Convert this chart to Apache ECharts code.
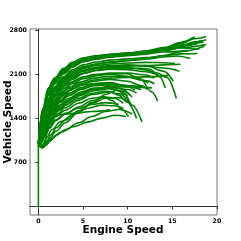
<!DOCTYPE html>
<html>
<head>
<meta charset="utf-8">
<script src="https://cdn.jsdelivr.net/npm/echarts@6/dist/echarts.min.js"></script>
<style>html,body{margin:0;padding:0;background:#fff}#c{width:241px;height:241px}</style>
</head>
<body>
<div id="c"></div>
<script>
const xTicks = [0, 5, 10, 15, 20];
const yTicks = [700, 1400, 2100, 2800];
const startLine = [[0, 0], [0, 1000]];

const topRuns = [
  [[0,1000],[0.5,1550],[1.1,1870],[1.8,2030],[2.8,2180],[3.8,2280],[5,2350],[6.5,2390],[8,2415],[10,2435],[12,2465],[14,2515],[16,2590],[17.5,2665],[18.8,2700]],
  [[0,1000],[0.5,1500],[1.1,1830],[1.8,2000],[2.8,2155],[3.8,2255],[5,2335],[6.5,2375],[8,2400],[10,2420],[12,2450],[14,2500],[16,2560],[17.5,2615],[18.8,2650]],
  [[0,1000],[0.5,1450],[1.1,1790],[1.8,1970],[2.8,2125],[3.8,2230],[5,2310],[6.5,2355],[8,2385],[10,2405],[12,2435],[14,2475],[16,2525],[18.8,2575]],
  [[0,990],[0.5,1420],[1.1,1760],[1.8,1945],[2.8,2105],[3.8,2215],[5,2300],[6.5,2345],[8,2380],[10,2410],[12,2445],[14,2490],[16,2555],[18.3,2640]],
  [[0,1000],[0.5,1530],[1.1,1850],[1.8,2015],[2.8,2165],[3.8,2265],[5,2340],[6.5,2380],[8,2400],[10,2415],[12,2445],[14,2505],[16,2595],[17.5,2700]],
  [[0,1000],[0.5,1400],[1.1,1720],[1.8,1900],[2.8,2060],[3.8,2170],[5,2250],[6.5,2295],[8,2325],[10,2345],[12,2365],[14,2395],[16,2425],[17.8,2430]],
  [[0,990],[0.5,1380],[1.1,1700],[1.8,1880],[2.8,2040],[3.8,2145],[5,2225],[6.5,2265],[8,2295],[10,2315],[12,2340],[14,2375],[15.5,2390],[17,2350]],
  [[0,1000],[0.5,1470],[1.1,1800],[1.8,1985],[2.8,2140],[3.8,2245],[5,2325],[6.5,2365],[8,2390],[10,2410],[12,2440],[14,2480],[16,2520],[18,2500]],
  [[0,1000],[0.5,1430],[1.1,1770],[1.8,1955],[2.8,2110],[3.8,2220],[5,2300],[6.5,2340],[8,2370],[10,2395],[12,2420],[14,2455],[16.8,2480]],
  [[0,1000],[0.5,1490],[1.1,1820],[1.8,1990],[2.8,2145],[3.8,2250],[5,2330],[6.5,2370],[8,2395],[10,2415],[12,2450],[14,2505],[16,2560],[17.2,2570]],
  [[0,1000],[0.5,1510],[1.1,1835],[1.8,2005],[2.8,2160],[3.8,2260],[5,2335],[6.5,2375],[8,2405],[10,2425],[12,2455],[14,2510],[16,2570],[18.5,2615]],
  [[0,995],[0.5,1460],[1.1,1790],[1.8,1975],[2.8,2130],[3.8,2235],[5,2315],[6.5,2360],[8,2390],[10,2410],[12,2445],[14,2495],[16,2545],[17.8,2585]],
  [[0,1000],[0.5,1360],[1.1,1680],[1.8,1860],[2.8,2020],[3.8,2125],[5,2210],[6.5,2260],[8,2290],[10,2320],[12,2350],[14,2400],[16,2460],[18.6,2545]],
  [[0,1000],[0.5,1560],[1.1,1880],[1.8,2040],[2.8,2190],[3.8,2290],[5,2360],[6.5,2395],[8,2420],[10,2440],[12,2470],[14,2525],[16,2610],[17.3,2680]]
];

const upperRuns = [
  [[0,1000],[0.5,1350],[1.1,1650],[1.8,1830],[2.8,1990],[3.8,2090],[5,2165],[6.5,2200],[8,2220],[10,2230],[12,2240],[14,2250],[15.9,2260]],
  [[0,990],[0.5,1300],[1.1,1600],[1.8,1780],[2.8,1950],[3.8,2060],[5,2150],[6.5,2200],[8,2230],[10,2240],[12,2230],[14,2200],[15.8,2150]],
  [[0,1000],[0.5,1320],[1.1,1610],[1.8,1790],[2.8,1960],[3.8,2070],[5,2150],[6.5,2190],[8,2210],[10,2205],[12,2170],[13.3,2120],[14.4,2050],[15.45,1716]],
  [[0,1000],[0.5,1280],[1.1,1560],[1.8,1740],[2.8,1910],[3.8,2020],[5,2110],[6.5,2160],[8,2190],[10,2200],[11.5,2195],[12.5,2180],[13.6,2060],[14.2,1884]],
  [[0,1000],[0.5,1250],[1.1,1520],[1.8,1700],[2.8,1870],[3.8,1980],[5,2060],[6.5,2100],[8,2120],[9.9,2110],[11.4,2030],[12.7,1820],[13.35,1673]],
  [[0,1000],[0.5,1200],[1.1,1440],[1.8,1610],[2.8,1770],[3.8,1870],[5,1930],[6.3,1955],[7.3,1955],[9,1920],[10.5,1895],[12.7,1885]],
  [[0,1000],[0.5,1340],[1.1,1640],[1.8,1820],[2.8,1980],[3.8,2085],[5,2160],[6.5,2210],[8,2240],[10,2250],[12,2240],[14,2150],[15.1,1990]],
  [[0,1000],[0.5,1290],[1.1,1580],[1.8,1760],[2.8,1930],[3.8,2040],[5,2120],[6.5,2165],[8,2180],[10,2175],[12,2140],[13.5,2080]],
  [[0,1000],[0.5,1370],[1.1,1670],[1.8,1850],[2.8,2005],[3.8,2110],[5,2190],[6.5,2235],[8,2265],[10,2280],[12,2290],[14,2285],[15.3,2270]],
  [[0,1000],[0.5,1230],[1.1,1490],[1.8,1670],[2.8,1840],[3.8,1950],[5,2030],[6.5,2080],[8,2110],[10,2120],[12,2090],[13,2040]]
];

const middleRuns = [
  [[0,1000],[0.4,1180],[0.9,1400],[1.5,1570],[2.4,1730],[3.4,1840],[4.8,1930],[6.2,1990],[8,2020],[10,1990],[11.5,1920],[12.2,1860]],
  [[0,1000],[0.4,1150],[0.9,1360],[1.5,1530],[2.4,1690],[3.4,1800],[4.8,1890],[6.2,1950],[8,1970],[9.5,1930],[10.8,1850]],
  [[0,1000],[0.4,1210],[0.9,1450],[1.5,1620],[2.4,1780],[3.4,1890],[4.8,1980],[6.2,2040],[8,2070],[10,2060],[11.5,2010],[12.3,1960]],
  [[0,1000],[0.4,1120],[0.9,1320],[1.5,1490],[2.4,1650],[3.4,1760],[4.8,1860],[6.2,1920],[7.5,1930],[9,1880],[10.3,1770]],
  [[0,1000],[0.4,1100],[0.9,1290],[1.5,1450],[2.4,1610],[3.4,1720],[4.8,1820],[6.2,1880],[7.5,1890],[9,1840],[10,1760]],
  [[0,1000],[0.4,1260],[0.9,1510],[1.5,1690],[2.4,1850],[3.4,1960],[4.8,2040],[6.2,2090],[8,2100],[10,2070],[12,2000],[13,1950]],
  [[0,1000],[0.4,1080],[0.9,1250],[1.5,1410],[2.4,1570],[3.4,1690],[4.8,1800],[6.2,1870],[8,1910],[10,1900],[11.5,1860]],
  [[0,1000],[0.4,1140],[0.9,1340],[1.5,1510],[2.4,1670],[3.4,1780],[4.8,1870],[6.2,1930],[8,1950],[10,1920],[12,1890]],
  [[0,1000],[0.4,1200],[0.9,1430],[1.5,1600],[2.4,1760],[3.4,1870],[4.8,1955],[6.2,2010],[8,2040],[10,2050],[12,2060],[14.5,2080]],
  [[0,1000],[0.4,1060],[0.9,1220],[1.5,1380],[2.4,1540],[3.4,1660],[4.8,1770],[6.2,1840],[8,1870],[9.5,1830],[10.5,1740]]
];

const lowerRuns = [
  [[0,1000],[0.3,1020],[0.7,1150],[1.2,1290],[2,1430],[3,1530],[4.5,1640],[6,1720],[7.3,1741],[8.3,1680],[9.2,1557],[10.1,1424]],
  [[0,1000],[0.3,1040],[0.7,1180],[1.2,1320],[2,1460],[3,1570],[4.5,1690],[6,1780],[8,1820],[9,1770],[9.9,1662],[11,1398]],
  [[0,1000],[0.2,960],[0.45,940],[0.8,990],[1.2,1070],[2,1200],[3,1330],[4.5,1500],[6,1650],[7.5,1780],[8.8,1847],[9.7,1780],[10.5,1609],[11.6,1345]],
  [[0,1000],[0.2,955],[0.4,940],[0.7,1000],[1,1180],[1.4,1380],[2,1450],[4,1480],[6,1510],[8.04,1535]],
  [[0,1000],[0.2,955],[0.4,935],[0.8,970],[1.2,1030],[2,1130],[3,1220],[4.5,1330],[6,1430],[7.5,1510],[9,1540],[10.5,1470]],
  [[0,1000],[0.3,1070],[0.7,1220],[1.2,1370],[2,1510],[3,1610],[4.5,1720],[6,1800],[7.5,1830],[9,1790],[10,1700]],
  [[0,1000],[0.3,1000],[0.7,1100],[1.2,1240],[2,1370],[3,1470],[4.5,1580],[6,1680],[7.5,1740],[8.5,1720],[9.5,1640]],
  [[0,1000],[0.2,970],[0.5,960],[0.9,1030],[1.4,1140],[2,1250],[3,1370],[4.5,1520],[6,1640],[7.5,1720],[9,1730],[10.3,1650]],
  [[0,1000],[0.3,1090],[0.7,1260],[1.2,1420],[2,1560],[3,1660],[4.5,1770],[6,1850],[8,1890],[10,1860],[11,1800]],
  [[0,1000],[0.2,950],[0.45,930],[0.9,980],[1.5,1080],[2.5,1180],[4,1270],[5.5,1340],[7,1400],[8.5,1450],[9.8,1430]],
  [[0,1000],[0.3,1030],[0.7,1130],[1.2,1250],[2,1380],[3,1480],[4.5,1560],[6,1620],[7.5,1650],[9,1620]],
  [[0,1000],[0.2,975],[0.5,990],[0.9,1090],[1.5,1220],[2.5,1350],[4,1470],[5.5,1560],[7,1610],[8.5,1600],[9.5,1560]]
];

const green = '#008000';
const allRuns = [startLine].concat(lowerRuns, middleRuns, upperRuns, topRuns);
const series = allRuns.map(function (run) {
  return {
    type: 'line',
    data: run,
    showSymbol: false,
    symbol: 'none',
    smooth: 0.35,
    smoothMonotone: 'x',
    lineStyle: { color: green, width: 1.6 },
    silent: true,
    animation: false
  };
});

const tickFont = { fontFamily: 'DejaVu Sans', fontWeight: 'bold', fontSize: 6.3, color: '#000' };
const titleFont = 'bold 10.5px "DejaVu Sans"';
const plain = function (v) { return String(v); };
const chart = echarts.init(document.getElementById('c'), null, { renderer: 'canvas' });
chart.setOption({
  animation: false,
  grid: { left: 30, right: 24, top: 29, bottom: 26, show: true, borderColor: '#777', borderWidth: 1, containLabel: false, outerBoundsMode: 'none' },
  graphic: [
    { type: 'text', x: 8, y: 122, rotation: Math.PI / 2, silent: true,
      style: { text: 'Vehicle Speed', font: titleFont, fill: '#000', align: 'center', verticalAlign: 'middle' } },
    { type: 'text', x: 123, y: 230, silent: true,
      style: { text: 'Engine Speed', font: titleFont, fill: '#000', align: 'center', verticalAlign: 'middle' } }
  ],
  xAxis: {
    type: 'value', min: -0.94, max: 20,
    axisLine: { show: true, lineStyle: { color: '#333', width: 1 } },
    axisTick: { show: true, length: 3, customValues: xTicks, lineStyle: { color: '#333' } },
    axisLabel: Object.assign({ customValues: xTicks, margin: 3, formatter: plain }, tickFont),
    splitLine: { show: false }
  },
  yAxis: {
    type: 'value', min: -135, max: 2820,
    axisLine: { show: true, lineStyle: { color: '#333', width: 1 } },
    axisTick: { show: true, length: 3, customValues: yTicks, lineStyle: { color: '#333' } },
    axisLabel: Object.assign({ customValues: yTicks, margin: 3, formatter: plain }, tickFont),
    splitLine: { show: false }
  },
  series: series
});
</script>
</body>
</html>
